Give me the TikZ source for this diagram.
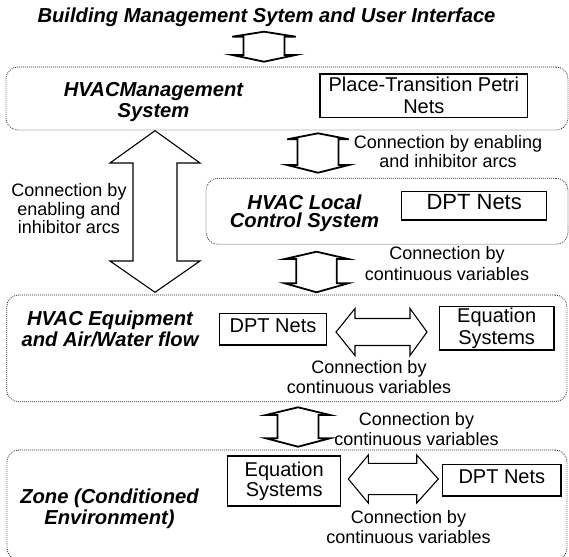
\documentclass[tikz,border=0pt]{standalone}
\usepackage{fontspec}
\setmainfont{Liberation Sans}

% fonts
\newcommand\tiername{\fontsize{20.2}{20}\selectfont\bfseries\itshape}
\newcommand\boxfont{\fontsize{20}{21.6}\selectfont}
\newcommand\notefont{\fontsize{18}{20}\selectfont}

% centred lines with a fixed baseline distance; baseline of the box = first line
\newcommand\mlines[2]{\vtop{\baselineskip=#1pt\lineskiplimit=-\maxdimen\lineskip=0pt
  \halign{\hfil##\hfil\cr#2\crcr}}}

% vertical double block arrow: style, cx, top tip, top base, bottom base, bottom tip, shaft half width, head half width
\newcommand\vdarrow[8]{%
  \draw[#1] (#2,#3) -- (#2+#8,#4) -- (#2+#7,#4) -- (#2+#7,#5) -- (#2+#8,#5) -- (#2,#6)
    -- (#2-#8,#5) -- (#2-#7,#5) -- (#2-#7,#4) -- (#2-#8,#4) -- cycle;}
% horizontal double block arrow: style, cy, left tip, left base, right base, right tip, shaft half height, head half height
\newcommand\hdarrow[8]{%
  \draw[#1] (#3,#2) -- (#4,#2-#8) -- (#4,#2-#7) -- (#5,#2-#7) -- (#5,#2-#8) -- (#6,#2)
    -- (#5,#2+#8) -- (#5,#2+#7) -- (#4,#2+#7) -- (#4,#2+#8) -- cycle;}

\tikzset{
  tier/.style={draw=black!85, line width=0.85pt, dash pattern=on 0.8pt off 1.2pt,
    rounded corners=12pt, inner sep=0pt},
  solidbox/.style={draw, line width=1.2pt, inner sep=0pt, font=\boxfont},
  blockarrow/.style={draw, line width=1.1pt, fill=white, line join=miter},
  linkarrow/.style={draw, line width=1.8pt, fill=white, line join=miter},
  lbl/.style={inner sep=0pt, anchor=base},
  tierlbl/.style={lbl, font=\tiername},
  notelbl/.style={lbl, font=\notefont},
}

\begin{document}
\begin{tikzpicture}[x=1pt,y=-1pt]
\useasboundingbox (0,0) rectangle (569,556);
\fill[white] (0,0) rectangle (569,556);

% dotted tier frames
\node[tier, minimum width=562pt, minimum height=63pt]    (mgmt)  at (287,98.5)    {};
\node[tier, minimum width=362pt, minimum height=66pt]    (lcs)   at (387,211.3)   {};
\node[tier, minimum width=560.3pt, minimum height=106.7pt] (eqp) at (286.85,348.35) {};
\node[tier, minimum width=560pt, minimum height=110pt]   (zone)  at (287,505)     {};

% tier names
\node[tierlbl] (ttl)       at (266.5,22.7) {Building Management Sytem and User Interface};
\node[tierlbl] (mgmtname)  at (153.5,96.7) {\mlines{20.5}{HVACManagement\cr System}};
\node[tierlbl] (lcsname)   at (304.5,209)  {\mlines{18.5}{HVAC Local\cr Control System}};
\node[tierlbl] (eqpname)   at (110,325.7)  {\mlines{21}{HVAC Equipment\cr and Air/Water flow}};
\node[tierlbl] (zonename)  at (109.5,503.3) {\mlines{20.7}{Zone (Conditioned\cr Environment)}};

% model boxes
\node[solidbox, minimum width=207.7pt, minimum height=43.3pt] (ptnets) at (423.85,95.65)
  {\mlines{21.6}{Place-Transition Petri\cr Nets}};
\node[solidbox, minimum width=145pt, minimum height=28.3pt, font=\fontsize{22}{24}\selectfont,
  text depth=8pt] (lcsnets) at (474.2,205.85) {DPT Nets};
\node[solidbox, minimum width=107.4pt, minimum height=31.7pt, text depth=6.5pt] (eqpnets)
  at (273,329.15) {DPT Nets};
\node[solidbox, minimum width=114.7pt, minimum height=43.3pt] (eqpeqs) at (496.65,328.35)
  {\mlines{21.5}{Equation\cr Systems}};
\node[solidbox, minimum width=113pt, minimum height=50pt] (zoneeqs) at (284.2,481)
  {\mlines{20}{Equation\cr Systems}};
\node[solidbox, minimum width=118.3pt, minimum height=31.7pt, text depth=6.5pt] (zonenets)
  at (501.85,480.15) {DPT Nets};

% block arrows between the tiers
\vdarrow{linkarrow}{264}{31.7}{36.7}{55}{61.7}{20.5}{31.7}
\vdarrow{linkarrow}{318}{133.3}{139.3}{165}{172.7}{20.5}{30.8}
\vdarrow{linkarrow}{316.5}{251.7}{259}{283.3}{292.3}{20.3}{31.7}
\vdarrow{linkarrow}{298}{407.3}{415}{438.3}{446.7}{20.5}{32}
\vdarrow{blockarrow}{155}{130.7}{163}{261}{292.3}{22}{45}
% block arrows inside the tiers
\hdarrow{blockarrow}{332}{336}{355}{410}{427}{13.5}{23.5}
\hdarrow{blockarrow}{479}{348.3}{368.3}{416.7}{438.3}{15.6}{24}

% connection notes
\node[notelbl] (arcnote)    at (448,148.3) {\mlines{19}{Connection by enabling\cr and inhibitor arcs}};
\node[notelbl] (leftnote)   at (69,196.7)  {\mlines{18.5}{Connection by\cr enabling and\cr inhibitor arcs}};
\node[notelbl] (lcsnote)    at (447,259)   {\mlines{21}{Connection by\cr continuous variables}};
\node[notelbl] (eqpnote)    at (369,373.5) {\mlines{20}{Connection by\cr continuous variables}};
\node[notelbl] (zonenote)   at (416.5,425) {\mlines{20}{Connection by\cr continuous variables}};
\node[notelbl] (zoneinnote) at (408.5,523.3) {\mlines{20}{Connection by\cr continuous variables}};
\end{tikzpicture}
\end{document}
